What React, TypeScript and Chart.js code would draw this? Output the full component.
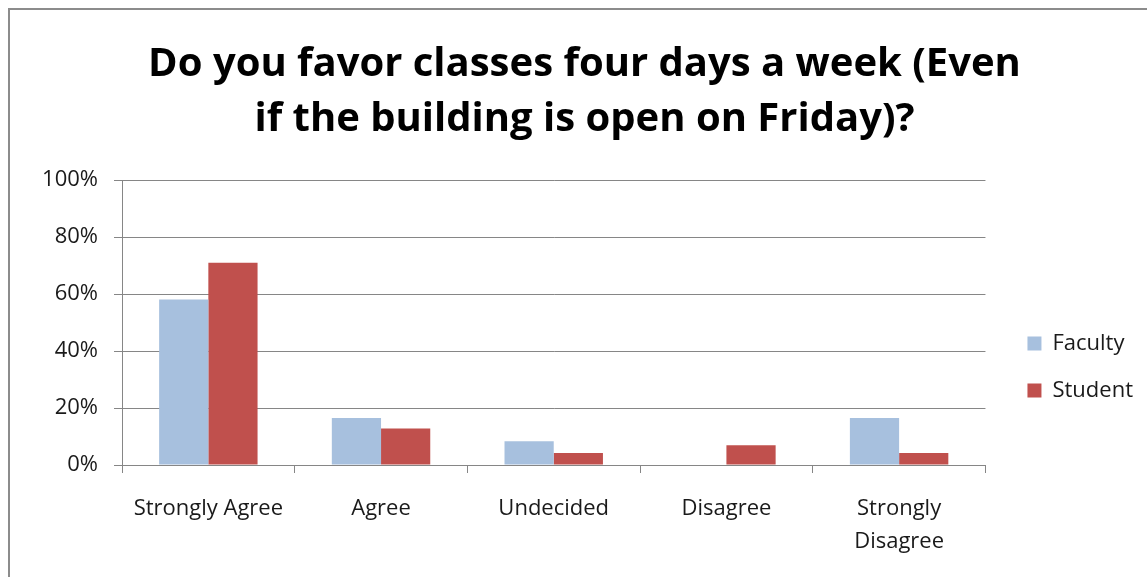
import React, { useEffect, useRef } from "react";
import { Chart, registerables } from "chart.js";

Chart.register(...registerables);

const categories: (string | string[])[] = [
  "Strongly Agree",
  "Agree",
  "Undecided",
  "Disagree",
  ["Strongly", "Disagree"],
];
const facultyValues = [58.1, 16.5, 8.3, 0, 16.5];
const studentValues = [71, 12.8, 4.2, 6.9, 4.2];
const titleLines = ["Do you favor classes four days a week (Even", "if the building is open on Friday)?"];
const yTickStep = 10;
const yLabelStep = 20;

const FONT = "'Open Sans', 'Noto Sans', sans-serif";
const GRID = "#868686";

const framePlugin = {
  id: "frame",
  beforeDraw(chart: any) {
    const ctx = chart.ctx;
    ctx.save();
    ctx.fillStyle = "#ffffff";
    ctx.fillRect(0, 0, chart.width, chart.height);
    ctx.strokeStyle = "#8c8c8c";
    ctx.lineWidth = 2;
    ctx.beginPath();
    ctx.moveTo(9, chart.height);
    ctx.lineTo(9, 9);
    ctx.lineTo(chart.width, 9);
    ctx.stroke();
    ctx.restore();
  },
};

export default function App() {
  const ref = useRef<HTMLCanvasElement>(null);
  useEffect(() => {
    document.body.style.margin = "0";
    const chart = new Chart(ref.current!, {
      type: "bar",
      data: {
        labels: categories,
        datasets: [
          {
            label: "Faculty",
            data: facultyValues,
            backgroundColor: "#A7C0DE",
            categoryPercentage: 0.57,
            barPercentage: 1,
          },
          {
            label: "Student",
            data: studentValues,
            backgroundColor: "#C0504D",
            categoryPercentage: 0.57,
            barPercentage: 1,
          },
        ],
      },
      options: {
        responsive: false,
        animation: false,
        layout: { padding: { left: 26, top: 10, right: 4, bottom: 0 } },
        plugins: {
          tooltip: { enabled: false },
          title: {
            display: true,
            text: titleLines,
            color: "#000",
            font: { family: FONT, size: 40, weight: "bold", lineHeight: 1.375 },
            padding: { top: 27, bottom: 33 },
          },
          legend: {
            position: "right",
            title: {
              display: true,
              text: " ",
              font: { family: FONT, size: 10, lineHeight: 1 },
              padding: { top: 137, bottom: 0 },
            },
            labels: {
              color: "#1a1a1a",
              boxWidth: 14,
              boxHeight: 14,
              padding: 25,
              font: { family: FONT, size: 22 },
            },
          },
        },
        scales: {
          x: {
            grid: {
              drawOnChartArea: false,
              drawTicks: true,
              tickLength: 8,
              color: GRID,
            },
            border: { color: GRID, width: 1 },
            ticks: {
              color: "#1a1a1a",
              font: { family: FONT, size: 22, lineHeight: 1.5 },
              padding: 19,
              maxRotation: 0,
            },
            afterFit(scale: any) {
              scale.height = 112;
            },
          },
          y: {
            min: 0,
            max: 100,
            grid: {
              color: (c: any) => (c.tick && c.tick.value % yLabelStep === 0 ? GRID : "rgba(0,0,0,0)"),
              tickColor: GRID,
              tickLength: 8,
            },
            border: { color: GRID, width: 1 },
            ticks: {
              stepSize: yTickStep,
              color: "#1a1a1a",
              font: { family: FONT, size: 22 },
              padding: 16,
              callback: (v: any) => (v % yLabelStep === 0 ? v + "%" : ""),
            },
            afterFit(scale: any) {
              scale.width = 96;
            },
          },
          spacer: {
            type: "linear",
            position: "right",
            display: true,
            grid: { display: false, drawTicks: false },
            border: { display: false },
            ticks: { display: false },
            afterFit(scale: any) {
              scale.width = 17;
            },
          },
        },
      },
      plugins: [framePlugin],
    });
    return () => chart.destroy();
  }, []);
  return <canvas ref={ref} width={1147} height={577} style={{ display: "block" }} />;
}
